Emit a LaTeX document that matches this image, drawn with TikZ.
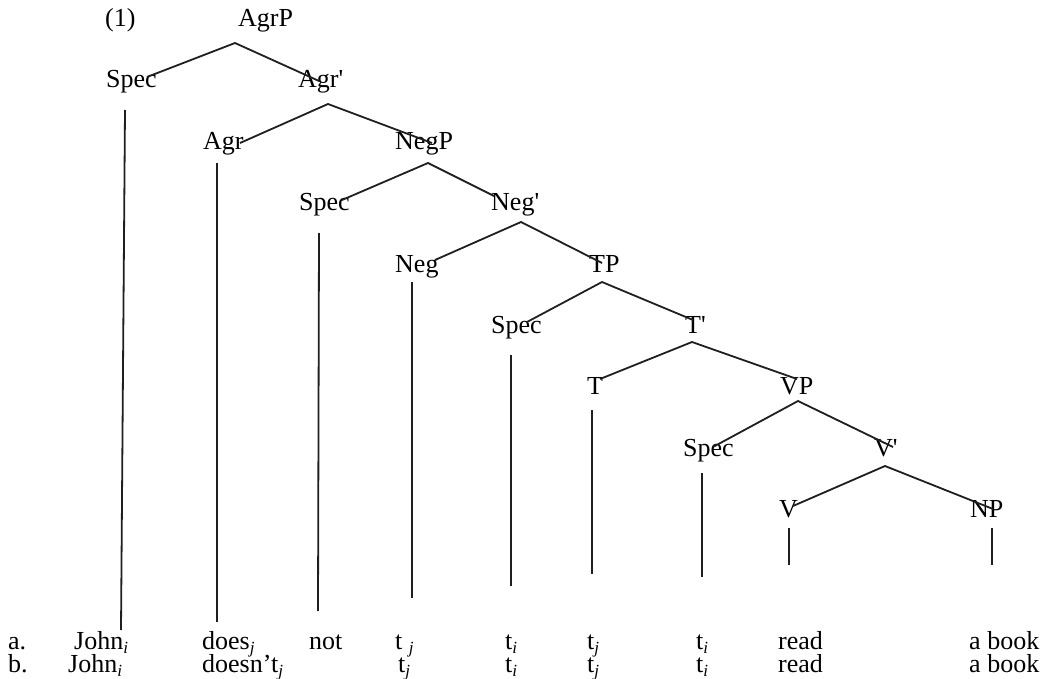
\documentclass[tikz,border=0pt]{standalone}
\usepackage{fontspec}
\setmainfont{Liberation Serif}[Ligatures=TeXOff]
% italic index subscripts
\newcommand{\idxsub}[1]{\raisebox{-4.5pt}{\fontsize{17}{17}\selectfont\textit{#1}}}
\newcommand{\idxi}{\idxsub{i}}
\newcommand{\idxj}{\idxsub{j}}
\begin{document}
\begin{tikzpicture}[x=1pt,y=-1pt,
  lbl/.style={anchor=base west,inner sep=0pt,font=\fontsize{26}{30}\selectfont,text=black},
  branch/.style={line width=1.8pt,draw=black!88,line cap=butt},
]
\useasboundingbox (0,0) rectangle (1049,679);

% ---- category labels
\node[lbl] (num)   at (105,27)  {(1)};
\node[lbl] (agrp)  at (238,27)  {AgrP};
\node[lbl] (spec1) at (106,88)  {Spec};
\node[lbl] (agrb)  at (298,88)  {Agr'};
\node[lbl] (agr)   at (203,150) {Agr};
\node[lbl] (negp)  at (395,150) {NegP};
\node[lbl] (spec2) at (299,211) {Spec};
\node[lbl] (negb)  at (491,211) {Neg'};
\node[lbl] (neg)   at (395,272) {Neg};
\node[lbl] (tp)    at (589,272) {TP};
\node[lbl] (spec3) at (491,333) {Spec};
\node[lbl] (tb)    at (685,333) {T'};
\node[lbl] (t)     at (587,394) {T};
\node[lbl] (vp)    at (780,394) {VP};
\node[lbl] (spec4) at (683,456) {Spec};
\node[lbl] (vb)    at (874,456) {V'};
\node[lbl] (v)     at (779,517) {V};
\node[lbl] (np)    at (970,517) {NP};

% ---- sentence a
\node[lbl] (a)     at (8,649)   {a.};
\node[lbl] (a1)    at (74,649)  {John\idxi};
\node[lbl] (a2)    at (202,649) {does\idxj};
\node[lbl] (a3)    at (309,649) {not};
\node[lbl] (a4)    at (395,649) {t \idxj};
\node[lbl] (a5)    at (505,649) {t\idxi};
\node[lbl] (a6)    at (587,649) {t\idxj};
\node[lbl] (a7)    at (696,649) {t\idxi};
\node[lbl] (a8)    at (778,649) {read};
\node[lbl] (a9)    at (969,649) {a book};

% ---- sentence b
\node[lbl] (b)     at (8,672)   {b.};
\node[lbl] (b1)    at (68,672)  {John\idxi};
\node[lbl] (b2)    at (202,672) {doesn’t\idxj};
\node[lbl] (b4)    at (398,672) {t\idxj};
\node[lbl] (b5)    at (505,672) {t\idxi};
\node[lbl] (b6)    at (587,672) {t\idxj};
\node[lbl] (b7)    at (696,672) {t\idxi};
\node[lbl] (b8)    at (778,672) {read};
\node[lbl] (b9)    at (969,672) {a book};

% ---- branching points and branch ends
\coordinate (agrp-v)  at (235,43);  \coordinate (agrp-l)  at (147,77);  \coordinate (agrp-r)  at (319,81);
\coordinate (agrb-v)  at (328,104); \coordinate (agrb-l)  at (240,143); \coordinate (agrb-r)  at (432,143);
\coordinate (negp-v)  at (428,163); \coordinate (negp-l)  at (342,200); \coordinate (negp-r)  at (494,196);
\coordinate (negb-v)  at (521,222); \coordinate (negb-l)  at (435,260); \coordinate (negb-r)  at (602,263);
\coordinate (tp-v)    at (602,282); \coordinate (tp-l)    at (527,322); \coordinate (tp-r)    at (693,320);
\coordinate (tb-v)    at (692,342); \coordinate (tb-l)    at (600,379); \coordinate (tb-r)    at (797,379);
\coordinate (vp-v)    at (798,401); \coordinate (vp-l)    at (713,447); \coordinate (vp-r)    at (893,447);
\coordinate (vb-v)    at (885,466); \coordinate (vb-l)    at (793,506); \coordinate (vb-r)    at (993,509);

\foreach \p in {agrp,agrb,negp,negb,tp,tb,vp,vb}{
  \draw[branch] (\p-l) -- (\p-v) -- (\p-r);
}

% ---- stems from terminal categories down to the words
\coordinate (s1-t) at (125,110);   \coordinate (s1-b) at (121,630);
\coordinate (s2-t) at (217,163);   \coordinate (s2-b) at (217,622);
\coordinate (s3-t) at (319,233);   \coordinate (s3-b) at (318,611);
\coordinate (s4-t) at (412,282);   \coordinate (s4-b) at (412,598);
\coordinate (s5-t) at (511,355);   \coordinate (s5-b) at (511,586);
\coordinate (s6-t) at (592,410);   \coordinate (s6-b) at (592,574);
\coordinate (s7-t) at (702,473);   \coordinate (s7-b) at (702,577);
\coordinate (s8-t) at (789,528);   \coordinate (s8-b) at (789,565);
\coordinate (s9-t) at (992,528);   \coordinate (s9-b) at (992,565);

\foreach \k in {1,...,9}{
  \draw[branch] (s\k-t) -- (s\k-b);
}
\end{tikzpicture}
\end{document}
